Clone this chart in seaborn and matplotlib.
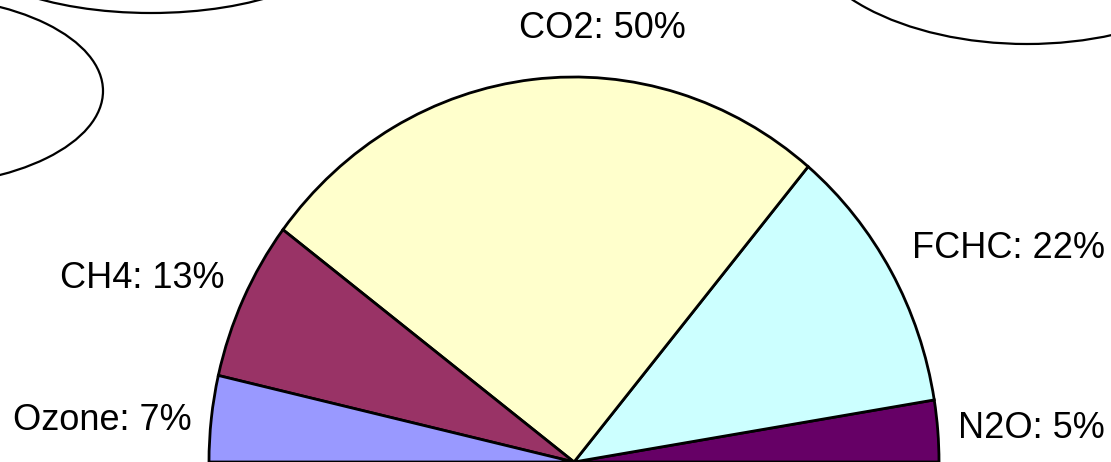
import matplotlib
matplotlib.use("Agg")
import matplotlib.pyplot as plt
from matplotlib.patches import Ellipse
import seaborn as sns

# Greenhouse gas shares, drawn counter-clockwise from the right
gases = ["N2O", "FCHC", "CO2", "CH4", "Ozone"]
shares = [5, 22, 50, 13, 7]
colors = ["#660066", "#CCFFFF", "#FFFFCC", "#993366", "#9999FF"]

sns.set_theme(style="white")
plt.rcParams["font.family"] = ["Liberation Sans", "DejaVu Sans"]

fig = plt.figure(figsize=(11.11, 4.62), dpi=100)
ax = fig.add_axes([0, 0, 1, 1])

# a hidden slice equal to the total makes the visible gases fill a half disc
values = shares + [sum(shares)]
wedges, _ = ax.pie(
    values,
    colors=colors + ["none"],
    startangle=0,
    counterclock=True,
    radius=1.0,
    wedgeprops=dict(edgecolor="black", linewidth=2.0),
)
wedges[-1].set_visible(False)

# pie centre sits on the bottom edge of the canvas
cx_px, rx_px, ry_px = 574, 365, 385
W, H = 1111, 462
ax.set_aspect("auto")
ax.set_xlim(-cx_px / rx_px, (W - cx_px) / rx_px)
ax.set_ylim(0, H / ry_px)
ax.axis("off")

# category labels, positioned in pixel space (x, y from top-left)
label_pos = {
    "CO2": (602, 28),
    "FCHC": (1008, 248),
    "CH4": (142, 279),
    "Ozone": (102, 421),
    "N2O": (1031, 428),
}
for g, s in zip(gases, shares):
    x, y = label_pos[g]
    fig.text(x / W, 1 - y / H, f"{g}: {s}%", ha="center", va="center",
             fontsize=26, color="black")

# decorative outline shapes around the chart
deco = fig.add_axes([0, 0, 1, 1], facecolor="none")
deco.set_xlim(0, W)
deco.set_ylim(H, 0)
deco.axis("off")
for (ex, ey, ew, eh) in [(-90, 91, 386, 190), (151, -60, 380, 146), (1027, -80, 456, 248)]:
    deco.add_patch(Ellipse((ex, ey), ew, eh, fill=False, edgecolor="black", linewidth=1.6))

fig.savefig("out.png", dpi=100)
